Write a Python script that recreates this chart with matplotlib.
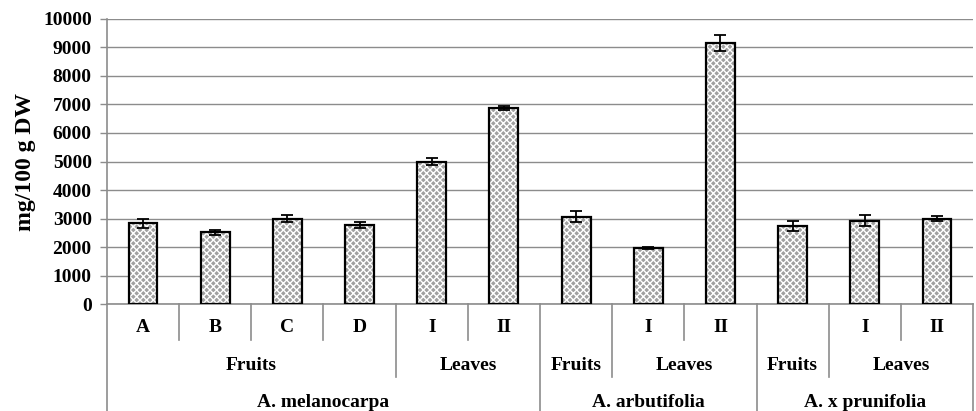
import itertools
import numpy as np
import matplotlib
matplotlib.use("Agg")
from matplotlib import pyplot as plt

# bar data, left to right
sub_labels = ["A", "B", "C", "D", "I", "II", "", "I", "II", "", "I", "II"]
organs = ["Fruits"] * 4 + ["Leaves"] * 2 + ["Fruits"] + ["Leaves"] * 2 + ["Fruits"] + ["Leaves"] * 2
species = ["A. melanocarpa"] * 6 + ["A. arbutifolia"] * 3 + ["A. x prunifolia"] * 3
values = [2830, 2510, 3000, 2780, 5000, 6880, 3070, 1960, 9160, 2740, 2920, 3000]
errors = [170, 100, 120, 100, 130, 60, 200, 40, 290, 180, 200, 100]

plt.rcParams['font.family'] = ['Liberation Serif', 'DejaVu Serif']
plt.rcParams['font.weight'] = 'bold'

fig = plt.figure(figsize=(9.76, 4.11), dpi=100)
ax = fig.add_axes([0.1096, 0.2603, 0.997 - 0.1096, 0.9538 - 0.2603])

grid_color = "#8c8c8c"
x = np.arange(len(values))

# patterned fill, then black outline on top
ax.bar(x, values, width=0.4, color="#a0a0a0", edgecolor="white", hatch="xxxxx", linewidth=0, zorder=2)
ax.bar(x, values, width=0.4, fill=False, edgecolor="black", linewidth=1.6, zorder=3)
ax.errorbar(x, values, yerr=errors, fmt="none", ecolor="black", elinewidth=1.3,
            capsize=4, capthick=1.3, zorder=4)

ax.set_xlim(-0.5, len(values) - 0.5)
ax.set_ylim(0, 10000)
ax.set_yticks(np.arange(0, 10001, 1000))
ax.tick_params(axis="y", labelsize=14, length=5, color=grid_color, width=1, pad=6)
for lab in ax.get_yticklabels():
    lab.set_fontweight("bold")
ax.set_xticks([])
ax.yaxis.grid(True, color=grid_color, linewidth=1)
ax.set_axisbelow(True)
for side in ["top", "right"]:
    ax.spines[side].set_visible(False)
for side in ["left", "bottom"]:
    ax.spines[side].set_color(grid_color)
    ax.spines[side].set_linewidth(1.2)

ax.set_ylabel("mg/100 g DW", fontsize=17, fontweight="bold", labelpad=5)

# multi level category axis
tr = ax.get_xaxis_transform()
row_bottom = [-0.126, -0.256, -0.375]
row_text = [-0.083, -0.215, -0.345]

for i, lab in enumerate(sub_labels):
    ax.text(i, row_text[0], lab, transform=tr, ha="center", va="center", fontsize=14, fontweight="bold")


def runs(seq, key):
    out = []
    start = 0
    for k, grp in itertools.groupby(range(len(seq)), key=key):
        n = len(list(grp))
        out.append((k, start, start + n))
        start += n
    return out


for (org, sp), s, e in runs(organs, lambda i: (organs[i], species[i])):
    ax.text((s + e - 1) / 2, row_text[1], org, transform=tr, ha="center", va="center",
            fontsize=14, fontweight="bold")
for sp, s, e in runs(species, lambda i: species[i]):
    ax.text((s + e - 1) / 2, row_text[2], sp, transform=tr, ha="center", va="center",
            fontsize=14, fontweight="bold")

for b in range(len(values) + 1):
    if b in (0, len(values)) or species[b] != species[b - 1]:
        depth = row_bottom[2]
    elif organs[b] != organs[b - 1]:
        depth = row_bottom[1]
    else:
        depth = row_bottom[0]
    ax.plot([b - 0.5, b - 0.5], [0, depth], transform=tr, color=grid_color,
            linewidth=1.2, clip_on=False)

fig.savefig("out.png", dpi=100)
